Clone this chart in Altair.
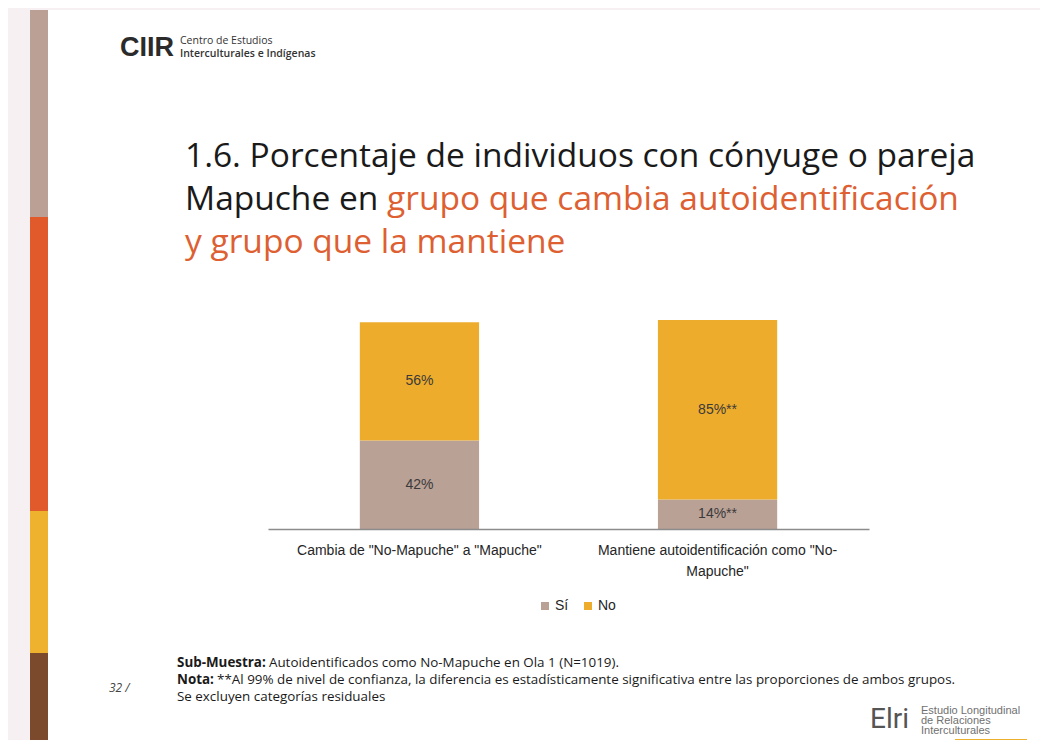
import altair as alt
import pandas as pd

# ---- data ----
categories = ['Cambia de "No-Mapuche" a "Mapuche"',
              'Mantiene autoidentificación  como "No-\nMapuche"']
respuestas = ["Sí", "No"]
si_values = [42, 14]
no_values = [56, 85]
si_labels = ["42%", "14%**"]
no_labels = ["56%", "85%**"]
colors = ["#b9a196", "#eeac2d"]

rows = []
for i, c in enumerate(categories):
    rows.append({"categoria": c, "respuesta": "Sí", "valor": si_values[i], "etiqueta": si_labels[i], "orden": 0})
    rows.append({"categoria": c, "respuesta": "No", "valor": no_values[i], "etiqueta": no_labels[i], "orden": 1})
df = pd.DataFrame(rows)

# page -> chart-plot coordinates (page margin 8, plot origin at padding 260/310)
OX, OY = 268, 318
def X(p):
    return p - OX
def Y(p):
    return p - OY

one = pd.DataFrame({"k": [0]})

def rect(x1, y1, x2, y2, color):
    return alt.Chart(one).mark_rect(color=color).encode(
        x=alt.value(X(x1)), x2=alt.value(X(x2)), y=alt.value(Y(y1)), y2=alt.value(Y(y2)))

def text(x, y, t, size, color="#222222", font="Open Sans", weight="normal",
         style="normal", align="left", baseline="middle"):
    return alt.Chart(one).mark_text(
        text=t, fontSize=size, color=color, font=font, fontWeight=weight,
        fontStyle=style, align=align, baseline=baseline).encode(
        x=alt.value(X(x)), y=alt.value(Y(y)))

base = alt.Chart(df).transform_stack(
    stack="valor", groupby=["categoria"], as_=["y0", "y1"],
    sort=[alt.SortField("orden", order="ascending")]
).transform_calculate(mid="(datum.y0 + datum.y1) / 2")

xenc = alt.X("categoria:N", sort=categories,
             scale=alt.Scale(paddingInner=0.6, paddingOuter=0.308),
             axis=alt.Axis(title=None, ticks=False, labelAngle=0, grid=False,
                           domainColor="#8c8c8c", domainWidth=1.5, zindex=2,
                           labelFont="Liberation Sans", labelFontSize=14,
                           labelColor="#262626", labelPadding=14,
                           labelLineHeight=21, labelLimit=500,
                           labelExpr="split(datum.label, '\\n')"))

bars = base.mark_bar().encode(
    x=xenc,
    y=alt.Y("y0:Q", scale=alt.Scale(domain=[0, 100]), axis=None),
    y2="y1:Q",
    color=alt.Color("respuesta:N", scale=alt.Scale(domain=respuestas, range=colors),
                    legend=alt.Legend(orient="none", legendX=270, legendY=281,
                                      direction="horizontal", title=None,
                                      symbolType="square", symbolSize=64,
                                      symbolStrokeWidth=0,
                                      labelFont="Liberation Sans", labelFontSize=14,
                                      labelColor="#262626", columnPadding=12,
                                      labelOffset=3, padding=0)),
)

labels = base.mark_text(font="Liberation Sans", fontSize=14, color="#3a3a3a").encode(
    x=alt.X("categoria:N", sort=categories),
    y=alt.Y("mid:Q"),
    text="etiqueta:N",
)

FS = 13.4
layers = [
    rect(30, 10, 1100, 800, "#ffffff"),
    rect(30, 10, 48, 217, "#bba095"),
    rect(30, 217, 48, 511, "#e05a2b"),
    rect(30, 511, 48, 653, "#eeb22e"),
    rect(30, 653, 48, 800, "#7b4a2d"),
    # header logo
    text(120, 56, "CIIR", 27, "#2b2b2b", "Liberation Sans", "bold", baseline="alphabetic"),
    text(180, 41, "Centro de Estudios", 10.5, "#333333", "Open Sans"),
    text(180, 54, "Interculturales e Indígenas", 10.5, "#333333", "Open Sans", 600),
    # title
    text(185, 167, "1.6. Porcentaje de individuos con cónyuge o pareja", 33.5, "#1a1a1a", baseline="alphabetic"),
    text(185, 210, "Mapuche en", 33.5, "#1a1a1a", baseline="alphabetic"),
    text(185 + 6.03 * 33.5, 210, "grupo que cambia autoidentificación", 33.5, "#dd5f32", baseline="alphabetic"),
    text(185, 253, "y grupo que la mantiene", 33.5, "#dd5f32", baseline="alphabetic"),
    # footer
    text(177, 663, "Sub-Muestra:", FS, "#1a1a1a", "Open Sans", "bold"),
    text(177 + 6.563 * FS + 4, 663, "Autoidentificados como No-Mapuche en Ola 1 (N=1019).", FS, "#1a1a1a", "Open Sans"),
    text(177, 680, "Nota:", FS, "#1a1a1a", "Open Sans", "bold"),
    text(177 + 2.695 * FS + 4, 680, "**Al 99% de nivel de confianza, la diferencia es estadísticamente significativa entre las proporciones de ambos grupos.", FS, "#1a1a1a", "Open Sans"),
    text(177, 697, "Se excluyen categorías residuales", FS, "#1a1a1a", "Open Sans"),
    text(109, 688, "32 /", 12, "#444444", "Open Sans", style="italic"),
    # Elri logo
    text(909, 720, "Elri", 28, "#555555", "Roboto", align="right"),
    text(921, 711, "Estudio Longitudinal", 11, "#707070", "Liberation Sans"),
    text(921, 721, "de Relaciones", 11, "#707070", "Liberation Sans"),
    text(921, 731, "Interculturales", 11, "#707070", "Liberation Sans"),
    rect(955, 739, 1027, 800, "#eeb02c"),
    bars,
    labels,
]

chart = alt.layer(*layers).properties(
    width=601, height=211,
    padding={"left": 260, "top": 310, "right": 171, "bottom": 211},
    autosize=alt.AutoSizeParams(type="none"),
).configure(background="#f6f0f2").configure_view(stroke=None)

chart.save("out.html", embed_options={"renderer": "svg", "actions": False})
